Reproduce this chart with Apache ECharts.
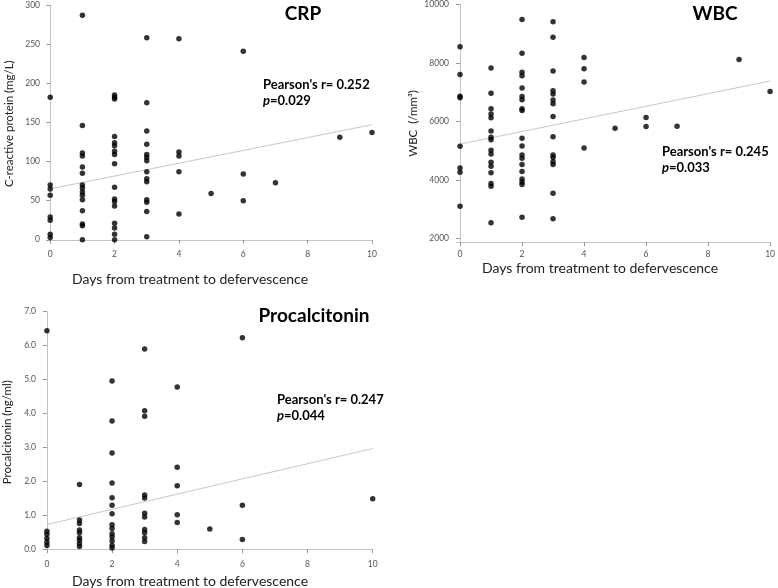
<!DOCTYPE html>
<html>
<head>
<meta charset="utf-8">
<script src="https://cdn.jsdelivr.net/npm/echarts@6/dist/echarts.min.js"></script>
<style>
html, body { margin: 0; background: #fff; }
#chart { width: 778px; height: 588px; }
</style>
</head>
<body>
<div id="chart"></div>
<script>
// tick values
const dayTicks = [0, 2, 4, 6, 8, 10];
const crpTicks = [0, 50, 100, 150, 200, 250, 300];
const wbcTicks = [2000, 4000, 6000, 8000, 10000];
const pctTicks = [0, 1, 2, 3, 4, 5, 6, 7];

// [day, value]
const crpPoints = [
  [0, 182], [0, 70], [0, 65], [0, 57], [0, 29], [0, 25], [0, 7], [0, 3],
  [1, 287], [1, 146], [1, 111], [1, 107], [1, 93], [1, 85], [1, 70], [1, 66], [1, 61], [1, 57], [1, 51], [1, 37], [1, 20], [1, 18], [1, 0],
  [2, 185], [2, 182], [2, 180], [2, 132], [2, 124], [2, 120], [2, 113], [2, 109], [2, 97], [2, 67], [2, 52], [2, 49], [2, 43], [2, 21], [2, 15], [2, 7], [2, 0],
  [3, 258], [3, 175], [3, 139], [3, 122], [3, 109], [3, 105], [3, 101], [3, 87], [3, 78], [3, 74], [3, 51], [3, 48], [3, 36], [3, 4],
  [4, 257], [4, 112], [4, 107], [4, 87], [4, 33],
  [5, 59], [6, 241], [6, 84], [6, 50], [7, 73], [9, 131], [10, 137]
];
const wbcPoints = [
  [0, 8550], [0, 7600], [0, 6860], [0, 6810], [0, 5150], [0, 4400], [0, 4260], [0, 3090],
  [1, 7830], [1, 6960], [1, 6430], [1, 6250], [1, 6120], [1, 5670], [1, 5460], [1, 5370], [1, 5010], [1, 4880], [1, 4600], [1, 4460], [1, 4240], [1, 3870], [1, 3780], [1, 2530],
  [2, 9490], [2, 8330], [2, 7680], [2, 7560], [2, 7140], [2, 6850], [2, 6740], [2, 6430], [2, 6370], [2, 5420], [2, 5160], [2, 4850], [2, 4740], [2, 4520], [2, 4280], [2, 4030], [2, 3920], [2, 3840], [2, 2720],
  [3, 9410], [3, 8880], [3, 7720], [3, 7050], [3, 6940], [3, 6730], [3, 6600], [3, 6170], [3, 5470], [3, 4850], [3, 4760], [3, 4620], [3, 4520], [3, 3540], [3, 2670],
  [4, 8190], [4, 7800], [4, 7350], [4, 5090],
  [5, 5760], [6, 6130], [6, 5820], [7, 5830], [9, 8120], [10, 7020]
];
const pctPoints = [
  [0, 6.44], [0, 0.53], [0, 0.44], [0, 0.32], [0, 0.21], [0, 0.11],
  [1, 1.91], [1, 0.86], [1, 0.76], [1, 0.57], [1, 0.49], [1, 0.34], [1, 0.27], [1, 0.16], [1, 0.08],
  [2, 4.96], [2, 3.78], [2, 2.84], [2, 1.95], [2, 1.52], [2, 1.30], [2, 1.05], [2, 0.72], [2, 0.61], [2, 0.46], [2, 0.37], [2, 0.25], [2, 0.12], [2, 0.04],
  [3, 5.90], [3, 4.08], [3, 3.92], [3, 1.60], [3, 1.51], [3, 1.06], [3, 0.95], [3, 0.58], [3, 0.49], [3, 0.34], [3, 0.23],
  [4, 4.78], [4, 2.42], [4, 1.87], [4, 1.02], [4, 0.79],
  [5, 0.60], [6, 6.23], [6, 1.30], [6, 0.29], [10, 1.49]
];

// fitted lines (end points)
const crpTrend = [[0, 65], [10, 147]];
const wbcTrend = [[0, 5220], [10, 7380]];
const pctTrend = [[0, 0.73], [10, 2.97]];

const FONT = 'Lato, "Open Sans", sans-serif';
const xName = 'Days from treatment to defervescence';

function xAxis(grid, min) {
  return {
    type: 'value', gridIndex: grid, min: min, max: 10,
    axisLine: { lineStyle: { color: '#c4c4c4' } },
    axisTick: { customValues: dayTicks, length: 4, lineStyle: { color: '#999' } },
    axisLabel: { customValues: dayTicks, fontFamily: FONT, fontSize: 8.5, color: '#555', margin: 7 },
    splitLine: { show: false }
  };
}

function yAxis(grid, min, max, ticks, name, gap, fmt) {
  return {
    type: 'value', gridIndex: grid, min: min, max: max,
    name: name, nameLocation: 'middle', nameGap: gap, nameRotate: 90,
    nameTextStyle: { fontFamily: FONT, fontSize: 11.5, color: '#222' },
    axisLine: { show: true, lineStyle: { color: '#c4c4c4' } },
    axisTick: { show: true, customValues: ticks, length: 4, lineStyle: { color: '#999' } },
    axisLabel: { customValues: ticks, fontFamily: FONT, fontSize: 8.5, color: '#555', margin: 7, formatter: fmt },
    splitLine: { show: false }
  };
}

function dots(i, data) {
  return { type: 'scatter', xAxisIndex: i, yAxisIndex: i, data: data, symbolSize: 5.5, itemStyle: { color: '#000' }, silent: true };
}
function trend(i, data) {
  return { type: 'line', xAxisIndex: i, yAxisIndex: i, data: data, symbol: 'none', lineStyle: { color: '#c8c8c8', width: 1 }, silent: true, z: 1 };
}

function label(x, y, text, size) {
  return { type: 'text', x: x, y: y, style: { text: text, fontFamily: FONT, fontSize: size, fontWeight: 'bold', fill: '#000', align: 'center', verticalAlign: 'middle' } };
}
function axisTitle(x, y) {
  return { type: 'text', x: x, y: y, style: { text: xName, fontFamily: FONT, fontSize: 14, fill: '#222', align: 'center', verticalAlign: 'middle' } };
}
function stat(x, y, r, p) {
  return {
    type: 'text', x: x, y: y,
    style: {
      text: "Pearson's r= " + r + '\n{i|p}=' + p,
      fontFamily: FONT, fontSize: 13, fontWeight: 'bold', fill: '#000', lineHeight: 16,
      align: 'left', verticalAlign: 'top',
      rich: { i: { fontFamily: FONT, fontSize: 13, fontStyle: 'italic', fontWeight: 'bold', fill: '#000' } }
    }
  };
}

const chart = echarts.init(document.getElementById('chart'));
chart.setOption({
  animation: false,
  backgroundColor: '#fff',
  grid: [
    { left: 47, top: 5, width: 325, height: 237.5 },
    { left: 456, top: 3.3, width: 316.3, height: 239 },
    { left: 42.7, top: 311.7, width: 330, height: 241 }
  ],
  xAxis: [xAxis(0, -0.1), xAxis(1, -0.13), xAxis(2, -0.12)],
  yAxis: [
    yAxis(0, -3.5, 300, crpTicks, 'C-reactive protein (mg/L)', 32, v => String(v)),
    yAxis(1, 1860, 10000, wbcTicks, 'WBC  (/mm³)', 37, v => String(v)),
    yAxis(2, -0.1, 7, pctTicks, 'Procalcitonin (ng/ml)', 30, v => v.toFixed(1))
  ],
  series: [
    trend(0, crpTrend), dots(0, crpPoints),
    trend(1, wbcTrend), dots(1, wbcPoints),
    trend(2, pctTrend), dots(2, pctPoints)
  ],
  graphic: [
    label(303, 14, 'CRP', 19),
    label(715, 14, 'WBC', 19),
    label(314, 316, 'Procalcitonin', 19),
    axisTitle(190, 279),
    axisTitle(600, 268),
    axisTitle(190, 581),
    stat(263, 77, '0.252', '0.029'),
    stat(662, 144, '0.245', '0.033'),
    stat(277, 392, '0.247', '0.044')
  ]
});
</script>
</body>
</html>
